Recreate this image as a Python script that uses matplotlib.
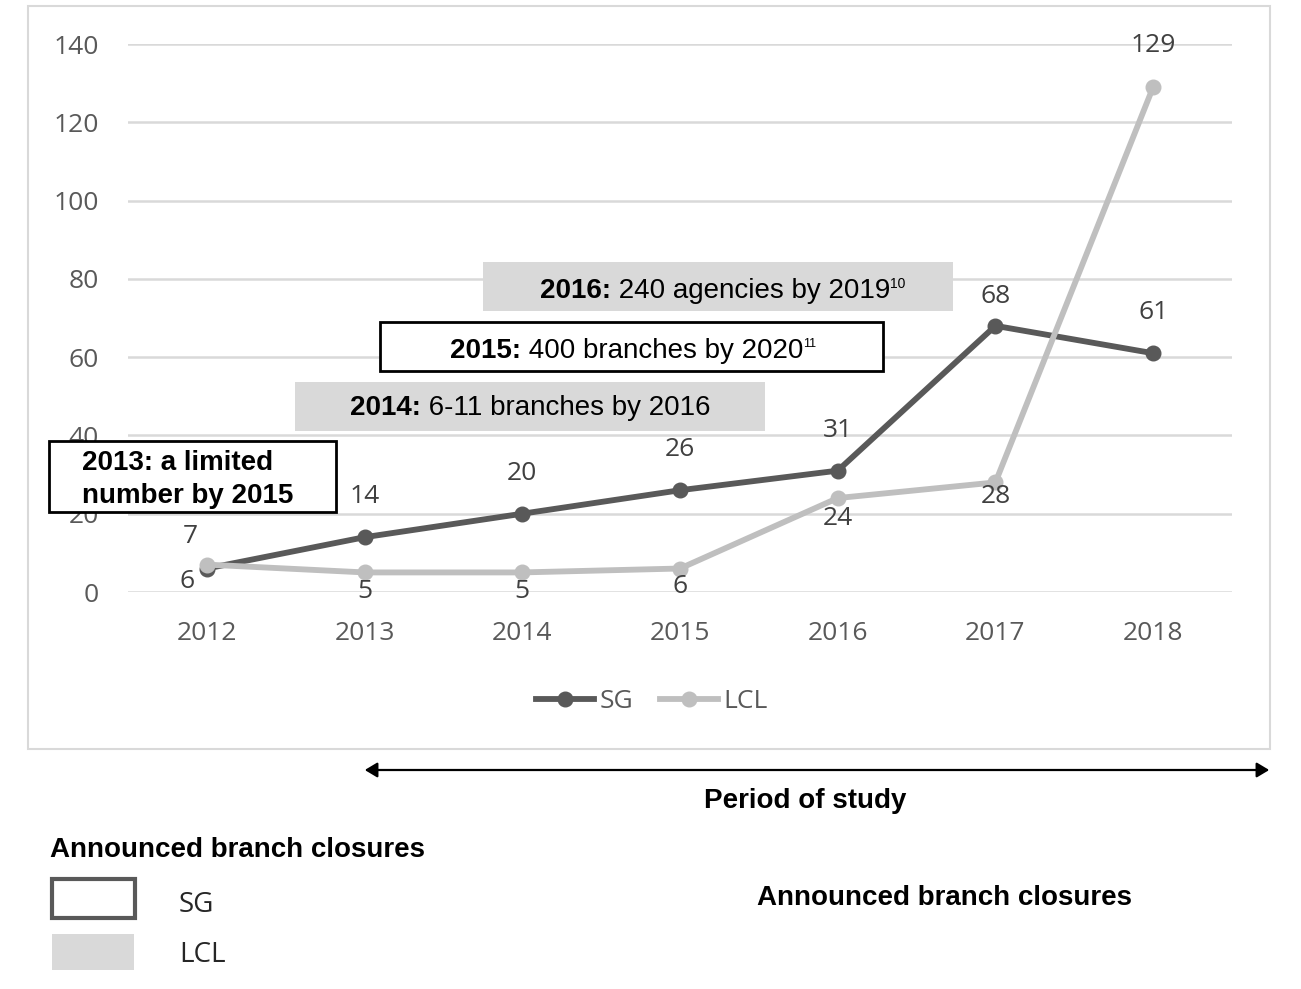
import matplotlib
matplotlib.use("Agg")
import matplotlib.pyplot as plt
from matplotlib.patches import Rectangle, FancyArrowPatch
from matplotlib.lines import Line2D

# ---- data ----
years = [2012, 2013, 2014, 2015, 2016, 2017, 2018]
sg = [6, 14, 20, 26, 31, 68, 61]
lcl = [7, 5, 5, 6, 24, 28, 129]
y_ticks = [0, 20, 40, 60, 80, 100, 120, 140]
series_names = ["SG", "LCL"]

W, H = 1301, 989
fig = plt.figure(figsize=(W / 100, H / 100), dpi=100)
fig.patch.set_facecolor("white")


def fx(x):
    return x / W


def fy(y):
    return 1 - y / H


TICK_FONT = ["Open Sans", "DejaVu Sans"]
BOX_FONT = ["Liberation Sans", "DejaVu Sans"]
SG_C = "#595959"
LCL_C = "#bfbfbf"
GRID_C = "#d9d9d9"

# outer chart frame
fig.add_artist(Rectangle((fx(28), fy(749)), fx(1270) - fx(28), fy(6) - fy(749),
                         transform=fig.transFigure, facecolor="white",
                         edgecolor="#d9d9d9", lw=1.5, zorder=-1))

ax = fig.add_axes([fx(128), fy(592), fx(1232) - fx(128), fy(44) - fy(592)])
ax.set_facecolor("none")
ax.set_xlim(2011.5, 2018.5)
ax.set_ylim(0, 140)
ax.set_yticks(y_ticks)
ax.set_xticks(years)
ax.tick_params(length=0, labelsize=19, labelcolor="#595959")
ax.tick_params(axis="y", pad=21)
ax.tick_params(axis="x", pad=21)
for lab in ax.get_xticklabels() + ax.get_yticklabels():
    lab.set_family(TICK_FONT)
for s in ax.spines.values():
    s.set_visible(False)
ax.yaxis.grid(True, color=GRID_C, lw=1.8)
ax.set_axisbelow(True)

ax.plot(years, sg, color=SG_C, lw=4.2, marker="o", ms=10.5, zorder=3)
ax.plot(years, lcl, color=LCL_C, lw=4.2, marker="o", ms=10.5, zorder=4)

# data labels (offsets in points)
sg_off = [(-14, -9), (0, 29), (0, 29), (0, 29), (0, 29), (0, 21), (0, 29)]
lcl_off = [(-12, 20), (0, -14), (0, -14), (0, -13), (0, -15), (0, -10), (0, 30)]
for xv, yv, (dx, dy) in zip(years, sg, sg_off):
    ax.annotate(str(yv), (xv, yv), xytext=(dx, dy), textcoords="offset points",
                ha="center", va="center", fontsize=19, color="#404040",
                family=TICK_FONT, zorder=6)
for xv, yv, (dx, dy) in zip(years, lcl, lcl_off):
    ax.annotate(str(yv), (xv, yv), xytext=(dx, dy), textcoords="offset points",
                ha="center", va="center", fontsize=19, color="#404040",
                family=TICK_FONT, zorder=6)

# legend
handles = [Line2D([], [], color=SG_C, lw=4.2, marker="o", ms=10.5),
           Line2D([], [], color=LCL_C, lw=4.2, marker="o", ms=10.5)]
leg = fig.legend(handles, series_names, loc="center", ncol=2, frameon=False,
                 bbox_to_anchor=(fx(652), fy(702)), handlelength=2.2,
                 handletextpad=0.2, columnspacing=1.0,
                 prop={"family": TICK_FONT, "size": 19})
for t in leg.get_texts():
    t.set_color("#595959")

renderer = fig.canvas.get_renderer()


def runs(x, y_base, pieces):
    """pieces: (text, weight, size, raise_px)"""
    cx = x
    for text, weight, size, rise in pieces:
        t = fig.text(fx(cx), fy(y_base) + rise / H, text, fontsize=size,
                     fontweight=weight, family=BOX_FONT, ha="left",
                     va="baseline", color="black", zorder=10)
        bb = t.get_window_extent(renderer)
        cx += bb.width


def box(x0, y0, x1, y1, face, edge, lw):
    fig.add_artist(Rectangle((fx(x0), fy(y1)), fx(x1) - fx(x0), fy(y0) - fy(y1),
                             transform=fig.transFigure, facecolor=face,
                             edgecolor=edge, lw=lw, zorder=8))


# annotation boxes
box(483, 262, 953, 311, "#d9d9d9", "none", 0)
runs(540, 298, [("2016:", "bold", 20, 0), (" 240 agencies by 2019", "normal", 20, 0),
                ("10", "normal", 10, 10)])

box(380, 322, 883, 371, "white", "black", 2)
runs(450, 358, [("2015:", "bold", 20, 0), (" 400 branches by 2020", "normal", 20, 0),
                ("11", "normal", 9, 11)])

box(295, 382, 765, 431, "#d9d9d9", "none", 0)
runs(350, 415, [("2014:", "bold", 20, 0), (" 6-11 branches by 2016", "normal", 20, 0)])

box(49, 441, 336, 512, "white", "black", 2)
runs(82, 470, [("2013: a limited", "bold", 20, 0)])
runs(82, 503, [("number by 2015", "bold", 20, 0)])

# period of study arrow
fig.add_artist(FancyArrowPatch(
    (fx(362), fy(770)), (fx(1272), fy(770)), transform=fig.transFigure,
    arrowstyle="<|-|>,head_length=5,head_width=3", color="black", lw=1.6,
    mutation_scale=1.5, zorder=10))
fig.text(fx(805), fy(801), "Period of study", fontsize=20, fontweight="bold",
         family=BOX_FONT, ha="center", va="center")

# bottom key
fig.text(fx(50), fy(850), "Announced branch closures", fontsize=20,
         fontweight="bold", family=BOX_FONT, ha="left", va="center")
fig.add_artist(Rectangle((fx(52), fy(918)), fx(135) - fx(52), fy(879) - fy(918),
                         transform=fig.transFigure, facecolor="white",
                         edgecolor=SG_C, lw=3, zorder=8))
fig.add_artist(Rectangle((fx(52), fy(970)), fx(134) - fx(52), fy(934) - fy(970),
                         transform=fig.transFigure, facecolor="#d9d9d9",
                         edgecolor="none", zorder=8))
fig.text(fx(179), fy(905), "SG", fontsize=20, family=TICK_FONT, ha="left",
         va="center", color="#262626")
fig.text(fx(179), fy(955), "LCL", fontsize=20, family=TICK_FONT, ha="left",
         va="center", color="#262626")
fig.text(fx(757), fy(898), "Announced branch closures", fontsize=20,
         fontweight="bold", family=BOX_FONT, ha="left", va="center")

fig.savefig("out.png", dpi=100)
